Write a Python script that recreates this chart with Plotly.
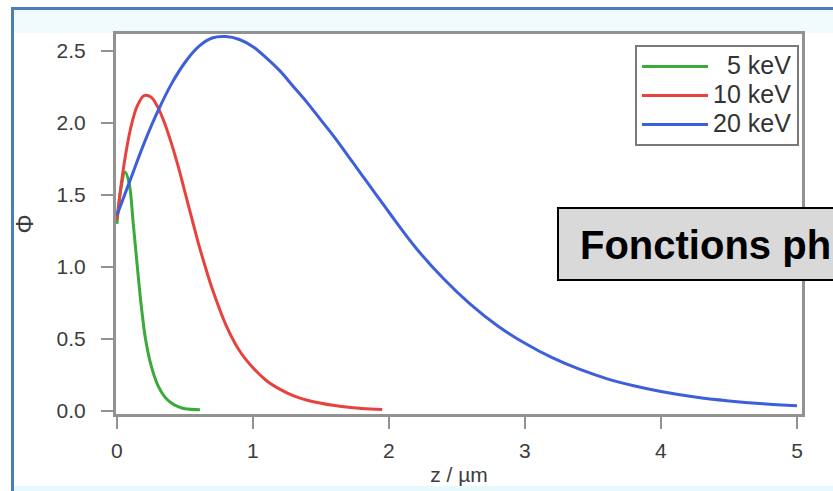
import plotly.graph_objects as go

# ---- data ----
z_5 = [0, 0.03, 0.06, 0.09, 0.12, 0.15, 0.18, 0.21, 0.25, 0.30, 0.35, 0.40, 0.45, 0.50, 0.61]
phi_5 = [1.30, 1.55, 1.66, 1.58, 1.30, 1.00, 0.72, 0.50, 0.32, 0.18, 0.10, 0.055, 0.03, 0.015, 0.008]

z_10 = [0, 0.05, 0.10, 0.15, 0.20, 0.25, 0.30, 0.35, 0.40, 0.45, 0.50, 0.55, 0.60, 0.65, 0.70,
        0.80, 0.90, 1.00, 1.10, 1.20, 1.30, 1.40, 1.60, 1.80, 1.95]
phi_10 = [1.33, 1.70, 1.96, 2.12, 2.19, 2.18, 2.11, 2.00, 1.86, 1.70, 1.52, 1.34, 1.16, 1.00, 0.85,
          0.60, 0.42, 0.30, 0.21, 0.15, 0.105, 0.075, 0.038, 0.018, 0.01]

z_20 = [0, 0.1, 0.2, 0.3, 0.4, 0.5, 0.6, 0.7, 0.8, 0.9, 1.0, 1.1, 1.2, 1.3, 1.4, 1.5, 1.6, 1.7, 1.8,
        1.9, 2.0, 2.2, 2.4, 2.6, 2.8, 3.0, 3.2, 3.4, 3.6, 3.8, 4.0, 4.25, 4.5, 4.75, 5.0]
phi_20 = [1.36, 1.61, 1.86, 2.08, 2.27, 2.42, 2.53, 2.59, 2.60, 2.58, 2.53, 2.45, 2.36, 2.25, 2.14,
          2.02, 1.90, 1.77, 1.64, 1.51, 1.38, 1.13, 0.92, 0.74, 0.59, 0.47, 0.37, 0.29, 0.225,
          0.175, 0.135, 0.097, 0.07, 0.05, 0.036]

series_labels = ["&nbsp;&nbsp;5 keV", "10 keV", "20 keV"]
series_colors = ["#3aaa3a", "#e8423f", "#3d5fd9"]

x_ticks = [0, 1, 2, 3, 4, 5]
y_ticks = [0.0, 0.5, 1.0, 1.5, 2.0, 2.5]

# ---- layout geometry (pixels) ----
W, H = 833, 491
L, R, T, B = 116, 31, 34, 77
PW, PH = W - L - R, H - T - B


def px(xp):
    return (xp - L) / PW


def py(yp):
    return (H - B - yp) / PH


fig = go.Figure()
for zz, pp, nm, col in zip([z_5, z_10, z_20], [phi_5, phi_10, phi_20], series_labels, series_colors):
    fig.add_trace(go.Scatter(x=zz, y=pp, mode="lines",
                             name=f'<span style="font-size:25px">{nm}</span>',
                             line=dict(color=col, width=3, shape="spline", smoothing=1)))

FONT = "Liberation Sans, Arial"
axis_common = dict(showline=True, linecolor="#929292", linewidth=3, mirror=True,
                   ticks="outside", ticklen=12, tickwidth=2, tickcolor="#929292",
                   showgrid=False, zeroline=False,
                   tickfont=dict(family=FONT, size=21, color="#3c3c3c"))

fig.update_xaxes(range=[-0.007, 5.037], tickvals=x_ticks, ticktext=[str(v) for v in x_ticks],
                 ticklabelstandoff=4,
                 title=dict(text="z / µm", standoff=7,
                            font=dict(family=FONT, size=21, color="#3c3c3c")),
                 **axis_common)
fig.update_yaxes(range=[-0.021, 2.618], tickvals=y_ticks, ticktext=[f"{v:.1f}" for v in y_ticks],
                 ticklabelstandoff=11,
                 title=dict(text="Φ", standoff=17,
                            font=dict(family=FONT, size=24, color="#3c3c3c")),
                 **axis_common)

shapes = [
    # light cyan band at top and bottom of slide frame
    dict(type="rect", xref="paper", yref="paper", x0=px(13), x1=px(W + 20), y0=py(33), y1=py(9),
         fillcolor="#f1fbfd", line=dict(width=0), layer="below"),
    dict(type="rect", xref="paper", yref="paper", x0=px(13), x1=px(W + 20), y0=py(H + 5), y1=py(486),
         fillcolor="#e6fafe", line=dict(width=0), layer="below"),
    # blue slide border
    dict(type="rect", xref="paper", yref="paper", x0=px(12.5), x1=px(W + 20), y0=py(H + 20), y1=py(8.5),
         fillcolor="rgba(0,0,0,0)", line=dict(color="#4a7ebb", width=3), layer="above"),
    # grey title box
    dict(type="rect", xref="paper", yref="paper", x0=px(558), x1=px(W + 30), y0=py(280), y1=py(208),
         fillcolor="#d9d9d9", line=dict(color="#000000", width=2), layer="above"),
]

fig.update_layout(
    width=W, height=H,
    margin=dict(l=L, r=R, t=T, b=B, autoexpand=False),
    paper_bgcolor="white", plot_bgcolor="white",
    showlegend=True,
    legend=dict(x=px(635), y=py(45), xanchor="left", yanchor="top",
                bgcolor="white", bordercolor="#7a7a7a", borderwidth=2,
                font=dict(family=FONT, size=20, color="#333333"),
                itemwidth=66, tracegroupgap=0),
    shapes=shapes,
    annotations=[dict(text="<b>Fonctions ph</b>", xref="paper", yref="paper",
                      x=px(578), y=py(245), xanchor="left", yanchor="middle", showarrow=False,
                      font=dict(family=FONT, size=40, color="#000000"))],
)

fig.write_html("out.html")
